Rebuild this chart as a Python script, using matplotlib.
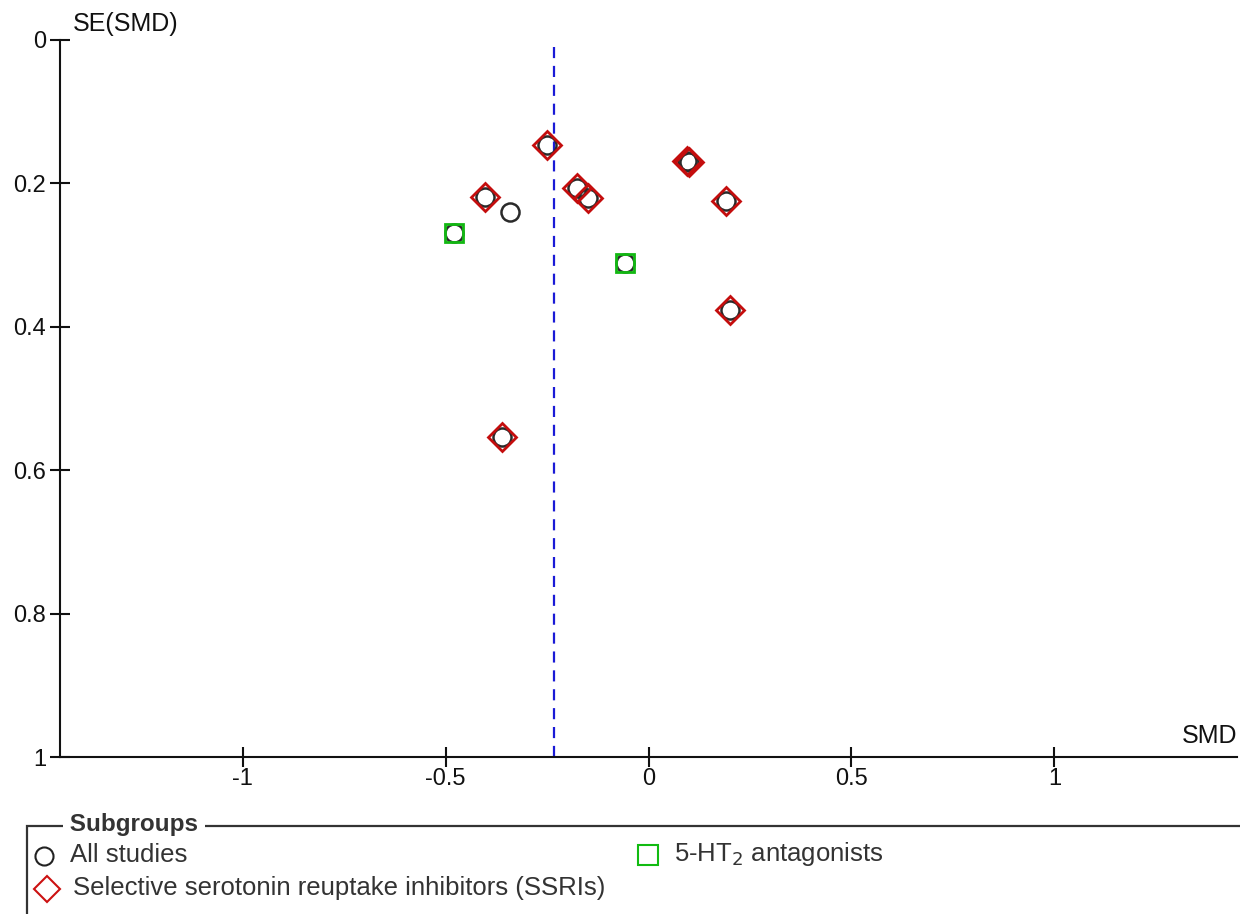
import matplotlib.pyplot as plt
from matplotlib.lines import Line2D
from matplotlib.patches import Rectangle

plt.rcParams['font.family'] = ['Liberation Sans', 'DejaVu Sans']
plt.rcParams['axes.unicode_minus'] = False

# Study estimates by subgroup (SMD, standard error)
ssri_smd = [-0.251, -0.404, -0.177, -0.148, 0.094, 0.100, 0.192, 0.202, -0.360]
ssri_se = [0.146, 0.219, 0.206, 0.220, 0.169, 0.170, 0.225, 0.377, 0.554]
ht2_smd = [-0.478, -0.057]
ht2_se = [0.269, 0.311]
other_smd = [-0.342]
other_se = [0.240]

pooled_smd = -0.234

x_ticks = [-1, -0.5, 0, 0.5, 1]
y_ticks = [0, 0.2, 0.4, 0.6, 0.8, 1]

all_smd = ssri_smd + ht2_smd + other_smd
all_se = ssri_se + ht2_se + other_se

fig = plt.figure(figsize=(12.4, 9.14), dpi=100)
ax = fig.add_axes([60 / 1240, 157 / 914, 1177 / 1240, 717 / 914])

ax.axvline(pooled_smd, color='#1a1ad6', lw=1.6, ls=(0, (5, 3.5)), zorder=1)

# every study gets a black circle, subgroup marker on top
ax.plot(all_smd, all_se, 'o', ms=13, mfc='none', mec='#2a2a2a', mew=1.8, zorder=2)
ax.plot(ssri_smd, ssri_se, 'D', ms=14, mfc='none', mec='#c40d0d', mew=2, zorder=3)
ax.plot(ht2_smd, ht2_se, 's', ms=12.5, mfc='none', mec='#12b812', mew=2, zorder=3)

ax.set_xlim(-1.45, 1.45)
ax.set_ylim(1, 0)
ax.set_xticks(x_ticks)
ax.set_xticklabels(['-1', '-0.5', '0', '0.5', '1'])
ax.set_yticks(y_ticks)
ax.set_yticklabels(['0', '0.2', '0.4', '0.6', '0.8', '1'])
ax.tick_params(direction='inout', length=14, width=1.5, labelsize=17, colors='#111111')
ax.tick_params(axis='y', pad=3)
ax.tick_params(axis='x', pad=1)
for s in ['top', 'right']:
    ax.spines[s].set_visible(False)
for s in ['left', 'bottom']:
    ax.spines[s].set_linewidth(1.5)
    ax.spines[s].set_color('#111111')

ax.text(0.011, 1.006, 'SE(SMD)', transform=ax.transAxes, fontsize=18, va='bottom', ha='left',
        color='#111111')
ax.text(1.0, 0.012, 'SMD', transform=ax.transAxes, fontsize=18, va='bottom', ha='right',
        color='#111111')

# subgroup legend box
fig.add_artist(Rectangle((27 / 1240, -0.05), 1.1, 0.05 + 88 / 914, transform=fig.transFigure,
                         fill=False, ec='#333333', lw=1.6))
fig.text(63 / 1240, 1 - 825 / 914, ' Subgroups ', fontsize=17.5, fontweight='bold', va='center',
         ha='left', color='#333333', bbox=dict(fc='white', ec='none', pad=0))

def legend_item(x, y, marker, color, size, label):
    fig.add_artist(Line2D([x / 1240], [1 - y / 914], marker=marker, ms=size, mfc='none',
                          mec=color, mew=1.5, transform=fig.transFigure))
    fig.text((x + 26) / 1240, 1 - (y - 1) / 914, label, fontsize=18.5, va='center', ha='left',
             color='#333333')

legend_item(44, 856, 'o', '#222222', 13, 'All studies')
legend_item(47, 889, 'D', '#cc1111', 13, 'Selective serotonin reuptake inhibitors (SSRIs)')
legend_item(648, 855, 's', '#11bb11', 15, '5-HT$_2$ antagonists')

fig.savefig('out.png', dpi=100)
